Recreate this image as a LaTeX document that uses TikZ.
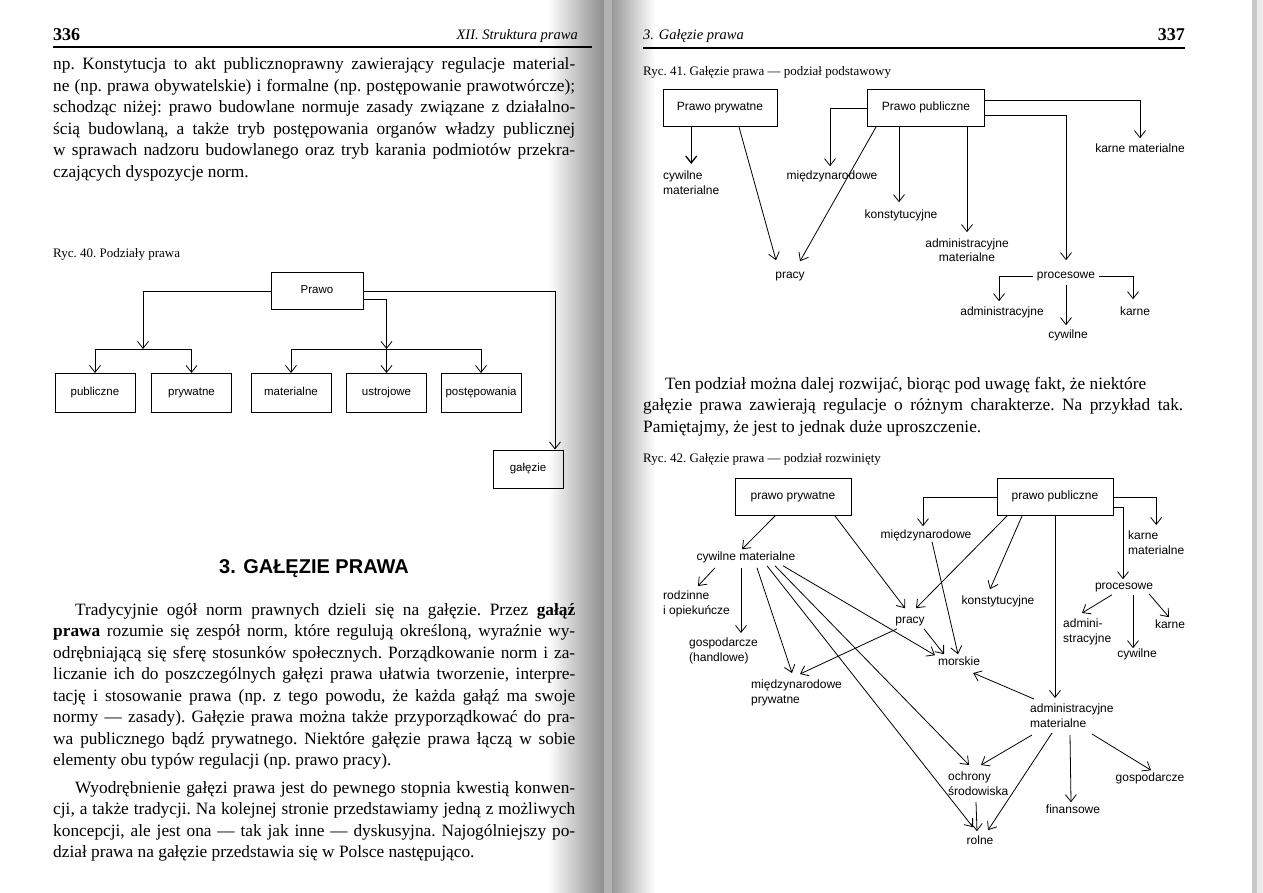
\documentclass[tikz,border=0pt]{standalone}
\usepackage{fontspec}
\setmainfont{Liberation Serif}
\setsansfont{Liberation Sans}
\usetikzlibrary{calc, arrows.meta, positioning}

\newcommand{\bodyfont}{\fontsize{17.3}{21.5}\selectfont\frenchspacing}
\newcommand{\capfont}{\fontsize{13}{15}\selectfont\frenchspacing}
\newcommand{\diagfont}{\sffamily\fontsize{12}{14.5}\selectfont}
\newcommand{\smallfont}{\sffamily\fontsize{11.5}{13}\selectfont}
\newcommand{\pw}{522pt}
\newcommand{\jl}[1]{\hbox to \pw{#1}}

\begin{document}
\begin{tikzpicture}[
		x=1pt, y=-1pt,
		box/.style={draw, line width=1pt, inner sep=0pt, minimum height=37pt, font=\diagfont, text height=1.6ex, text depth=0.4ex},
		box40/.style={draw, line width=1pt, inner sep=0pt, minimum width=80pt, minimum height=39pt, font=\smallfont, text height=1.6ex, text depth=0.4ex},
		lab/.style={inner sep=1pt, font=\diagfont, text height=1.6ex, text depth=0.4ex},
		ml/.style={anchor=north west, inner sep=1pt, font=\diagfont, align=left},
		arr/.style={-{Straight Barb[length=7pt,width=11pt]}, line width=0.8pt},
		ln/.style={line width=0.8pt},
		para/.style={anchor=base west, inner sep=0pt, font=\bodyfont},
		ryccap/.style={anchor=base west, inner sep=0pt, font=\capfont},
	]
	\useasboundingbox (0,0) rectangle (1263,893);
	\fill[white] (0,0) rectangle (1263,893);

	% gutter and page edge
	\shade[left color=white, right color=black!45] (548,0) rectangle (604,893);
	\fill[black!30] (604,0) rectangle (612,893);
	\shade[left color=black!40, right color=white] (612,0) rectangle (655,893);
	\fill[black!22] (1252,0) rectangle (1257,893);
	\fill[black!8] (1257,0) rectangle (1263,893);

	% ---------- page 336 ----------
	\node[anchor=base west, inner sep=0pt, font=\bfseries\fontsize{18}{20}\selectfont] (pg336) at (53,41) {336};
	\node[anchor=base east, inner sep=0pt, font=\itshape\fontsize{14.5}{16}\selectfont] (hd336) at (578,40) {XII. Struktura prawa};
	\draw[line width=1.3pt] (53,47) -- (592,47);

	\node[para] (par1) at (53,70) {\vtop{%
		\jl{np. Konstytucja to akt publicznoprawny zawierający regulacje material-}
		\jl{ne (np. prawa obywatelskie) i formalne (np. postępowanie prawotwórcze);}
		\jl{schodząc niżej: prawo budowlane normuje zasady związane z działalno-}
		\jl{ścią budowlaną, a także tryb postępowania organów władzy publicznej}
		\jl{w sprawach nadzoru budowlanego oraz tryb karania podmiotów przekra-}
		\hbox{czających dyspozycje norm.}}};

	\node[ryccap] (cap40) at (53,258) {Ryc. 40. Podziały prawa};

	\node[box40, minimum width=92pt, minimum height=36pt] (p40) at (317,291) {Prawo};
	\node[box40] (b1) at (95,393) {publiczne};
	\node[box40] (b2) at (191.5,393) {prywatne};
	\node[box40] (b3) at (291,393) {materialne};
	\node[box40] (b4) at (386.5,393) {ustrojowe};
	\node[box40] (b5) at (481,393) {postępowania};
	\node[box40, minimum width=70pt, minimum height=38pt] (b6) at (528,469) {gałęzie};
	\coordinate (j1) at (143,349);
	\coordinate (j2) at (b4.north |- j1);

	\draw[arr] (p40.west) -| (j1);
	\draw[ln] (j1 -| b1.north) -- (j1 -| b2.north);
	\draw[arr] (j1 -| b1.north) -- (b1.north);
	\draw[arr] (j1 -| b2.north) -- (b2.north);
	\draw[arr] ($(p40.east)+(0,8)$) -| (j2);
	\draw[ln] (j2 -| b3.north) -- (j2 -| b5.north);
	\foreach \bx in {b3,b4,b5}
	\draw[arr] (j2 -| \bx.north) -- (\bx.north);
	\draw[arr] (p40.east) -| ($(b6.north)+(27,0)$);

	\node[anchor=base, inner sep=0pt, font=\sffamily\bfseries\fontsize{20}{24}\selectfont] (sec3) at (314,573) {3. GAŁĘZIE PRAWA};

	\node[para] (par2) at (53,615) {\vtop{%
		\jl{\kern22pt Tradycyjnie ogół norm prawnych dzieli się na gałęzie. Przez \textbf{gałąź}}
		\jl{\textbf{prawa} rozumie się zespół norm, które regulują określoną, wyraźnie wy-}
		\jl{odrębniającą się sferę stosunków społecznych. Porządkowanie norm i za-}
		\jl{liczanie ich do poszczególnych gałęzi prawa ułatwia tworzenie, interpre-}
		\jl{tację i stosowanie prawa (np. z tego powodu, że każda gałąź ma swoje}
		\jl{normy — zasady). Gałęzie prawa można także przyporządkować do pra-}
		\jl{wa publicznego bądź prywatnego. Niektóre gałęzie prawa łączą w sobie}
		\hbox{elementy obu typów regulacji (np. prawo pracy).}}};

	\node[para] (par3) at (53,793) {\vtop{%
		\jl{\kern22pt Wyodrębnienie gałęzi prawa jest do pewnego stopnia kwestią konwen-}
		\jl{cji, a także tradycji. Na kolejnej stronie przedstawiamy jedną z możliwych}
		\jl{koncepcji, ale jest ona — tak jak inne — dyskusyjna. Najogólniejszy po-}
		\hbox{dział prawa na gałęzie przedstawia się w Polsce następująco.}}};

	% ---------- page 337 ----------
	\node[anchor=base west, inner sep=0pt, font=\itshape\fontsize{14.5}{16}\selectfont] (hd337) at (643,40) {3. Gałęzie prawa};
	\node[anchor=base east, inner sep=0pt, font=\bfseries\fontsize{18}{20}\selectfont] (pg337) at (1185,41) {337};
	\draw[line width=1.3pt] (643,48) -- (1185,48);

	\node[ryccap] (cap41) at (643,76) {Ryc. 41. Gałęzie prawa — podział podstawowy};

	\node[box, minimum width=114pt] (pp41) at (720,108) {Prawo prywatne};
	\node[box, minimum width=117pt] (pb41) at (926,108) {Prawo publiczne};
	\node[ml] (cm41) at (662,170) {cywilne\\materialne};
	\node[lab] (mn41) at (832,177) {międzynarodowe};
	\node[lab] (ko41) at (901,216) {konstytucyjne};
	\node[inner sep=1pt, font=\diagfont, align=center] (am41) at (967,250) {administracyjne\\materialne};
	\node[lab] (km41) at (1140,150) {karne materialne};
	\node[lab] (pr41) at (790,276) {pracy};
	\node[lab] (ps41) at (1066,276) {procesowe};
	\node[lab] (ad41) at (1002,313) {administracyjne};
	\node[lab] (ka41) at (1135,313) {karne};
	\node[lab] (cy41) at (1068,336) {cywilne};

	\draw[arr, line width=1.3pt] (cm41.north |- pp41.south) -- ($(cm41.north)+(0,-6)$);
	\draw[arr] ($(pp41.south)+(19,0)$) -- ($(pr41.north)+(-14,-10)$);
	\draw[arr] (pb41.west) -| ($(mn41.north)+(-2,-5)$);
	\draw[arr] ($(pb41.east)+(0,-8)$) -| ($(km41.north)+(0,-6)$);
	\draw[arr] ($(pb41.east)+(0,7)$) -| ($(ps41.north)+(0,-10)$);
	\draw[arr] ($(pb41.south)+(-27,0)$) -- ($(ko41.north)+(-2,-8)$);
	\draw[arr] ($(pb41.south)+(41,0)$) -- ($(am41.north)+(0,-5)$);
	\draw[arr] ($(pb41.south)+(-50,0)$) -- ($(pr41.north)+(10,-9)$);
	\draw[arr] ($(ps41.west)+(-3,0)$) -| ($(ad41.north)+(-3,-6)$);
	\draw[arr] ($(ps41.east)+(3,0)$) -| ($(ka41.north)+(-2,-8)$);
	\draw[arr] ($(ps41.south)+(0,3)$) -- ($(cy41.north)+(-2,-5)$);

	\node[para] (par4) at (643,389) {\vtop{\renewcommand{\pw}{540pt}%
		\hbox{\kern22pt Ten podział można dalej rozwijać, biorąc pod uwagę fakt, że niektóre}
		\jl{gałęzie prawa zawierają regulacje o różnym charakterze. Na przykład tak.}
		\hbox{Pamiętajmy, że jest to jednak duże uproszczenie.}}};

	\node[ryccap] (cap42) at (643,462) {Ryc. 42. Gałęzie prawa — podział rozwinięty};

	\node[box, minimum width=116pt] (pp42) at (793,497) {prawo prywatne};
	\node[box, minimum width=116pt] (pb42) at (1055,497) {prawo publiczne};
	\node[lab] (cm42) at (746,558) {cywilne materialne};
	\node[ml] (ro42) at (662,590) {rodzinne\\i opiekuńcze};
	\node[ml] (go42) at (688,637) {gospodarcze\\(handlowe)};
	\node[ml] (mp42) at (750,679) {międzynarodowe\\prywatne};
	\node[lab] (mn42) at (926,536) {międzynarodowe};
	\node[lab] (pr42) at (910,621) {pracy};
	\node[lab] (ko42) at (998,602) {konstytucyjne};
	\node[lab] (mo42) at (959,663) {morskie};
	\node[ml] (km42) at (1127,530) {karne\\materialne};
	\node[lab] (ps42) at (1124,587) {procesowe};
	\node[ml] (ad42) at (1062,618) {admini-\\stracyjne};
	\node[lab] (ka42) at (1170,626) {karne};
	\node[lab] (cy42) at (1137,655) {cywilne};
	\node[ml] (am42) at (1029,703) {administracyjne\\materialne};
	\node[ml] (oc42) at (947,771) {ochrony\\środowiska};
	\node[lab] (rl42) at (980,842) {rolne};
	\node[lab] (fi42) at (1073,811) {finansowe};
	\node[lab] (gs42) at (1150,779) {gospodarcze};

	\draw[arr] ($(pp42.south)+(-18,0)$) -- ($(cm42.north)+(-4,-3)$);
	\draw[arr] ($(pp42.south)+(42,0)$) -- ($(pr42.north)+(-5,-7)$);
	\draw[arr] (pb42.west) -| ($(mn42.north)+(-3,-4)$);
	\draw[arr] (pb42.east) -| ($(km42.north)+(0,-5)$);
	\draw[arr] ($(pb42.east)+(0,10)$) -| ($(ps42.north)+(-1,-2)$);
	\draw[arr] ($(pb42.south)+(-48,0)$) -- ($(pr42.north)+(6,-7)$);
	\draw[arr] ($(pb42.south)+(-33,0)$) -- ($(ko42.north)+(-8,-7)$);
	\draw[arr] (pb42.south) -- ($(pb42.south |- am42.north)+(0,-5)$);
	\draw[arr] ($(mn42.south)+(6,0)$) -- ($(mo42.north)+(-1,-3)$);
	\draw[arr] ($(pr42.south)+(14,2)$) -- ($(mo42.north)+(-15,-3)$);
	\draw[arr] ($(cm42.south)+(37,2)$) -- ($(mo42.north)+(-24,-2)$);
	\draw[arr] ($(am42.north west)+(5,-4)$) -- ($(mo42.east)+(-8,10)$);
	\draw[arr] ($(cm42.south)+(-31,4)$) -- ($(ro42.north west)+(36,-4)$);
	\draw[arr] ($(cm42.south)+(-5,4)$) -- ($(go42.north west)+(53,-4)$);
	\draw[arr] ($(cm42.south)+(11,4)$) -- ($(mp42.north west)+(42,-6)$);
	\draw[arr] ($(pr42.south)+(-13,2)$) -- ($(mp42.north west)+(50,-5)$);
	\draw[arr] ($(cm42.south)+(29,2)$) -- ($(oc42.north west)+(22,-6)$);
	\draw[arr] ($(cm42.south)+(21,2)$) -- ($(rl42.north)+(-7,-9)$);
	\draw[arr] ($(am42.north west)+(3,32)$) -- ($(oc42.north west)+(34,-6)$);
	\draw[arr] ($(oc42.north west)+(29,31)$) -- ($(rl42.north)+(-3,-5)$);
	\draw[arr] ($(am42.north west)+(23,30)$) -- ($(rl42.north)+(8,-6)$);
	\draw[arr] ($(am42.north west)+(41,32)$) -- ($(fi42.north)+(-2,-3)$);
	\draw[arr] ($(am42.north west)+(63,31)$) -- ($(gs42.north)+(1,-3)$);
	\draw[arr] ($(ps42.south)+(-12,2)$) -- ($(ad42.north west)+(20,-5)$);
	\draw[arr] ($(ps42.south)+(9,2)$) -- ($(cy42.north)+(-4,-1)$);
	\draw[arr] ($(ps42.south)+(25,1)$) -- ($(ka42.north)+(-1,-3)$);
\end{tikzpicture}
\end{document}
